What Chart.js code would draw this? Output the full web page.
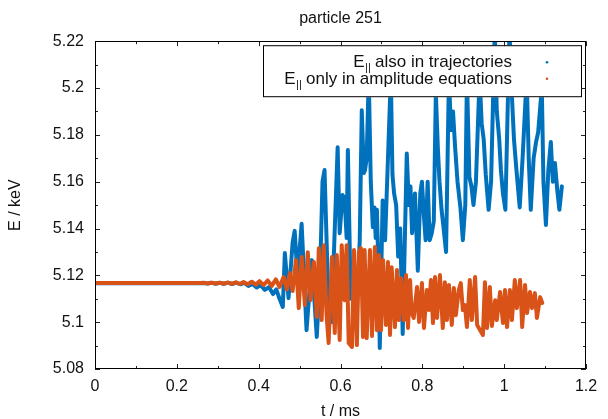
<!DOCTYPE html>
<html>
<head>
<meta charset="utf-8">
<title>particle 251</title>
<script src="https://cdn.jsdelivr.net/npm/chart.js@4.4.1/dist/chart.umd.min.js"></script>
<style>
  html, body { margin: 0; padding: 0; background: #fff; }
  #wrap { width: 608px; height: 419px; }
</style>
</head>
<body>
<div id="wrap"><canvas id="chart" width="608" height="419"></canvas></div>
<script>
// labels and ticks
const chartTitle = "particle 251";
const xLabel = "t / ms";
const yLabel = "E / keV";
const xTicks = [0, 0.2, 0.4, 0.6, 0.8, 1, 1.2];
const yTicks = [5.08, 5.1, 5.12, 5.14, 5.16, 5.18, 5.2, 5.22];
const seriesNames = ["also in trajectories", "only in amplitude equations"];

// E|| also in trajectories (blue)
const blueT = [
  0, 0.255, 0.265, 0.275, 0.285, 0.295, 0.305, 0.315, 0.325, 0.335,
  0.345, 0.355, 0.365, 0.375, 0.385, 0.395, 0.405, 0.415, 0.425, 0.435,
  0.443, 0.451, 0.459, 0.464, 0.473, 0.483, 0.488, 0.495, 0.505, 0.517,
  0.530, 0.542, 0.550, 0.556, 0.561, 0.569, 0.578, 0.593, 0.598, 0.605,
  0.610, 0.615, 0.618, 0.625, 0.632, 0.640, 0.647, 0.652, 0.657, 0.660,
  0.664, 0.669, 0.674, 0.679, 0.683, 0.686, 0.689, 0.693, 0.696, 0.703,
  0.709, 0.723, 0.727, 0.731, 0.736, 0.741, 0.746, 0.752, 0.762, 0.767,
  0.771, 0.775, 0.782, 0.789, 0.795, 0.799, 0.804, 0.808, 0.813, 0.818,
  0.823, 0.828, 0.833, 0.838, 0.842, 0.847, 0.852, 0.858, 0.865, 0.870,
  0.875, 0.880, 0.886, 0.893, 0.899, 0.905, 0.909, 0.915, 0.920, 0.925,
  0.931, 0.940, 0.945, 0.950, 0.955, 0.962, 0.968, 0.977, 0.982, 0.988,
  0.992, 0.997, 1.003, 1.013, 1.018, 1.024, 1.030, 1.038, 1.045, 1.055,
  1.060, 1.065, 1.072, 1.078, 1.083, 1.092, 1.096, 1.102, 1.108, 1.114,
  1.119, 1.124, 1.130, 1.135, 1.141
];
const blueE = [
  5.1166, 5.1166, 5.1167, 5.1165, 5.1168, 5.1164, 5.1168, 5.1164, 5.1169, 5.1163,
  5.1169, 5.1162, 5.1168, 5.1155, 5.1163, 5.1148, 5.1158, 5.1138, 5.1150, 5.1120,
  5.1140, 5.1100, 5.1065, 5.1295, 5.1103, 5.1340, 5.1390, 5.1195, 5.1420, 5.0966,
  5.1265, 5.0937, 5.1200, 5.1600, 5.1650, 5.1167, 5.1000, 5.1747, 5.1380, 5.1543,
  5.1530, 5.1360, 5.1735, 5.1100, 5.1250, 5.1050, 5.1350, 5.1905, 5.1637, 5.1650,
  5.1700, 5.2050, 5.1600, 5.1406, 5.1490, 5.1360, 5.1480, 5.1200, 5.0890, 5.1520,
  5.1350, 5.2050, 5.1630, 5.1550, 5.1500, 5.1280, 5.1400, 5.0950, 5.1720, 5.1500,
  5.1580, 5.1380, 5.1550, 5.1220, 5.1550, 5.1600, 5.1450, 5.1350, 5.1600, 5.1350,
  5.1380, 5.1430, 5.1980, 5.1740, 5.1600, 5.1480, 5.1400, 5.1300, 5.2050, 5.1820,
  5.1900, 5.1750, 5.1600, 5.1490, 5.1350, 5.1500, 5.2050, 5.1620, 5.1580, 5.1500,
  5.1600, 5.2050, 5.1850, 5.1780, 5.1630, 5.1480, 5.1600, 5.2250, 5.1900, 5.1780,
  5.1650, 5.1550, 5.1480, 5.2250, 5.2000, 5.1780, 5.1650, 5.1490, 5.1700, 5.2050,
  5.1700, 5.1480, 5.1700, 5.1770, 5.1810, 5.2000, 5.1600, 5.1415, 5.1650, 5.1770,
  5.1600, 5.1680, 5.1560, 5.1480, 5.1580
];

// E|| only in amplitude equations (orange)
const orangeT = [
  0, 0.256, 0.268, 0.275, 0.285, 0.295, 0.305, 0.314, 0.324, 0.334,
  0.344, 0.354, 0.363, 0.373, 0.383, 0.393, 0.402, 0.412, 0.422, 0.432,
  0.442, 0.451, 0.461, 0.469, 0.476, 0.483, 0.491, 0.498, 0.505, 0.513,
  0.520, 0.527, 0.535, 0.542, 0.547, 0.554, 0.559, 0.566, 0.571, 0.579,
  0.586, 0.591, 0.598, 0.603, 0.610, 0.615, 0.620, 0.628, 0.633, 0.640,
  0.645, 0.650, 0.655, 0.659, 0.664, 0.672, 0.677, 0.684, 0.689, 0.694,
  0.699, 0.704, 0.711, 0.716, 0.721, 0.725, 0.733, 0.738, 0.743, 0.748,
  0.755, 0.760, 0.765, 0.770, 0.774, 0.779, 0.787, 0.792, 0.799, 0.804,
  0.811, 0.816, 0.821, 0.826, 0.831, 0.836, 0.843, 0.850, 0.855, 0.860,
  0.865, 0.872, 0.877, 0.882, 0.889, 0.894, 0.899, 0.904, 0.909, 0.916,
  0.921, 0.929, 0.934, 0.941, 0.948, 0.953, 0.958, 0.965, 0.970, 0.978,
  0.982, 0.990, 0.997, 1.002, 1.007, 1.014, 1.019, 1.026, 1.031, 1.039,
  1.044, 1.051, 1.056, 1.063, 1.068, 1.075, 1.080, 1.088, 1.093
];
const orangeE = [
  5.1167, 5.1167, 5.1168, 5.1165, 5.1168, 5.1165, 5.1169, 5.1164, 5.1169, 5.1164,
  5.1170, 5.1163, 5.1171, 5.1162, 5.1173, 5.1160, 5.1175, 5.1158, 5.1178, 5.1155,
  5.1183, 5.1150, 5.1193, 5.1140, 5.1210, 5.1133, 5.1265, 5.1060, 5.1278, 5.1073,
  5.1299, 5.1094, 5.1257, 5.1022, 5.1316, 5.1009, 5.1329, 5.1030, 5.0911, 5.1278,
  5.0954, 5.1287, 5.0924, 5.1329, 5.1094, 5.1329, 5.0911, 5.0894, 5.1308, 5.0902,
  5.1299, 5.1316, 5.0937, 5.1308, 5.0932, 5.1308, 5.0941, 5.1321, 5.0966, 5.1287,
  5.0966, 5.1265, 5.0988, 5.1257, 5.0945, 5.1235, 5.0979, 5.1223, 5.1009, 5.1188,
  5.1009, 5.1201, 5.0975, 5.1180, 5.1039, 5.1018, 5.1150, 5.1001, 5.1167, 5.0975,
  5.1137, 5.1052, 5.1180, 5.0996, 5.1193, 5.1018, 5.1201, 5.0975, 5.1171, 5.1009,
  5.1159, 5.0988, 5.1146, 5.1030, 5.1137, 5.1167, 5.1052, 5.1073, 5.0979, 5.1180,
  5.1009, 5.1193, 5.0988, 5.0966, 5.0945, 5.1171, 5.0975, 5.1150, 5.0984, 5.1094,
  5.1009, 5.1129, 5.0996, 5.1137, 5.0979, 5.1137, 5.1009, 5.1180, 5.1060, 5.1180,
  5.0979, 5.1159, 5.1039, 5.1129, 5.1060, 5.1124, 5.1018, 5.1107, 5.1082
];

const toPoints = (ts, es) => ts.map((t, i) => ({ x: t, y: es[i] }));

const FONT = "'Liberation Sans', Arial, Helvetica, sans-serif";
const TEXT = "#111";

// gnuplot-like frame, inward ticks on all sides, and the boxed key
const frameAndKey = {
  id: "frameAndKey",
  afterDatasetsDraw(chart) {
    const { ctx, chartArea: a, scales: { x, y } } = chart;
    ctx.save();

    // key box
    const kl = a.right - 323, kt = a.top + 4, kr = a.right - 4, kb = a.top + 56;
    ctx.fillStyle = "#fff";
    ctx.fillRect(kl, kt, kr - kl, kb - kt);
    ctx.strokeStyle = "#000";
    ctx.lineWidth = 1;
    ctx.strokeRect(kl + 0.5, kt + 0.5, kr - kl - 1, kb - kt - 1);

    const textRight = a.right - 74;
    chart.data.datasets.forEach((ds, i) => {
      const base = kt + 22 + i * 16.5;
      ctx.font = "17px " + FONT;
      const rest = " " + seriesNames[i];
      const wE = ctx.measureText("E").width;
      const wRest = ctx.measureText(rest).width;
      ctx.font = "11px " + FONT;
      const wSub = ctx.measureText("||").width;
      let sx = textRight - (wE + wSub + wRest);
      ctx.fillStyle = TEXT;
      ctx.textBaseline = "alphabetic";
      ctx.textAlign = "left";
      ctx.font = "17px " + FONT;
      ctx.fillText("E", sx, base);
      ctx.font = "11px " + FONT;
      ctx.fillText("||", sx + wE + 0.5, base + 4);
      ctx.font = "17px " + FONT;
      ctx.fillText(rest, sx + wE + wSub, base);
      ctx.fillStyle = ds.borderColor;
      ctx.beginPath();
      ctx.arc(a.right - 39, base - 5, 1.3, 0, Math.PI * 2);
      ctx.fill();
    });

    // ticks
    ctx.strokeStyle = "#222";
    ctx.lineWidth = 1;
    const seg = (x1, y1, x2, y2) => { ctx.beginPath(); ctx.moveTo(x1, y1); ctx.lineTo(x2, y2); ctx.stroke(); };
    const major = 5, minor = 3;
    xTicks.forEach((v, i) => {
      const p = Math.round(x.getPixelForValue(v)) + 0.5;
      seg(p, a.bottom, p, a.bottom - major);
      seg(p, a.top, p, a.top + major);
      if (i < xTicks.length - 1) {
        const m = Math.round(x.getPixelForValue((v + xTicks[i + 1]) / 2)) + 0.5;
        seg(m, a.bottom, m, a.bottom - minor);
        seg(m, a.top, m, a.top + minor);
      }
    });
    yTicks.forEach((v, i) => {
      const p = Math.round(y.getPixelForValue(v)) + 0.5;
      seg(a.left, p, a.left + major, p);
      seg(a.right, p, a.right - major, p);
      if (i < yTicks.length - 1) {
        const m = Math.round(y.getPixelForValue((v + yTicks[i + 1]) / 2)) + 0.5;
        seg(a.left, m, a.left + minor, m);
        seg(a.right, m, a.right - minor, m);
      }
    });

    // frame
    ctx.strokeStyle = "#000";
    ctx.strokeRect(Math.round(a.left) + 0.5, Math.round(a.top) + 0.5,
      Math.round(a.width) - 1, Math.round(a.height) - 1);
    ctx.restore();
  }
};

new Chart(document.getElementById("chart"), {
  type: "line",
  data: {
    datasets: [
      {
        label: "E|| " + seriesNames[0],
        data: toPoints(blueT, blueE),
        borderColor: "#0072bd",
        borderWidth: 4,
        pointRadius: 0,
        tension: 0,
        borderJoinStyle: "round",
        borderCapStyle: "round",
        clip: 0,
        order: 2,
      },
      {
        label: "E|| " + seriesNames[1],
        data: toPoints(orangeT, orangeE),
        borderColor: "#d95319",
        borderWidth: 4,
        pointRadius: 0,
        tension: 0,
        borderJoinStyle: "round",
        borderCapStyle: "round",
        clip: 0,
        order: 1,
      },
    ],
  },
  options: {
    responsive: false,
    animation: false,
    devicePixelRatio: 1,
    layout: { padding: { left: 0, right: 22, top: 0, bottom: 0 } },
    plugins: {
      legend: { display: false },
      tooltip: { enabled: false },
      title: {
        display: true,
        fullSize: false,
        text: chartTitle,
        color: TEXT,
        font: { family: FONT, size: 16, weight: "normal" },
        padding: { top: 9, bottom: 13 },
      },
    },
    scales: {
      x: {
        type: "linear",
        min: 0,
        max: 1.2,
        afterBuildTicks: (s) => { s.ticks = xTicks.map((v) => ({ value: v })); },
        afterFit: (s) => { s.height = 50; },
        grid: { display: false },
        border: { display: false },
        ticks: {
          callback: (v) => String(v),
          color: TEXT,
          font: { family: FONT, size: 16 },
          padding: 0,
          maxRotation: 0,
          autoSkip: false,
        },
        title: {
          display: true,
          text: xLabel,
          color: TEXT,
          font: { family: FONT, size: 16 },
          padding: { top: 0, bottom: -2 },
        },
      },
      y: {
        type: "linear",
        min: 5.08,
        max: 5.22,
        afterBuildTicks: (s) => { s.ticks = yTicks.map((v) => ({ value: v })); },
        afterFit: (s) => { s.width = 95; },
        grid: { display: false },
        border: { display: false },
        ticks: {
          callback: (v) => String(v),
          color: TEXT,
          font: { family: FONT, size: 16 },
          padding: 3,
          autoSkip: false,
        },
        title: {
          display: true,
          text: yLabel,
          color: TEXT,
          font: { family: FONT, size: 16 },
          padding: { top: 6, bottom: 0 },
        },
      },
    },
  },
  plugins: [frameAndKey],
});
</script>
</body>
</html>
